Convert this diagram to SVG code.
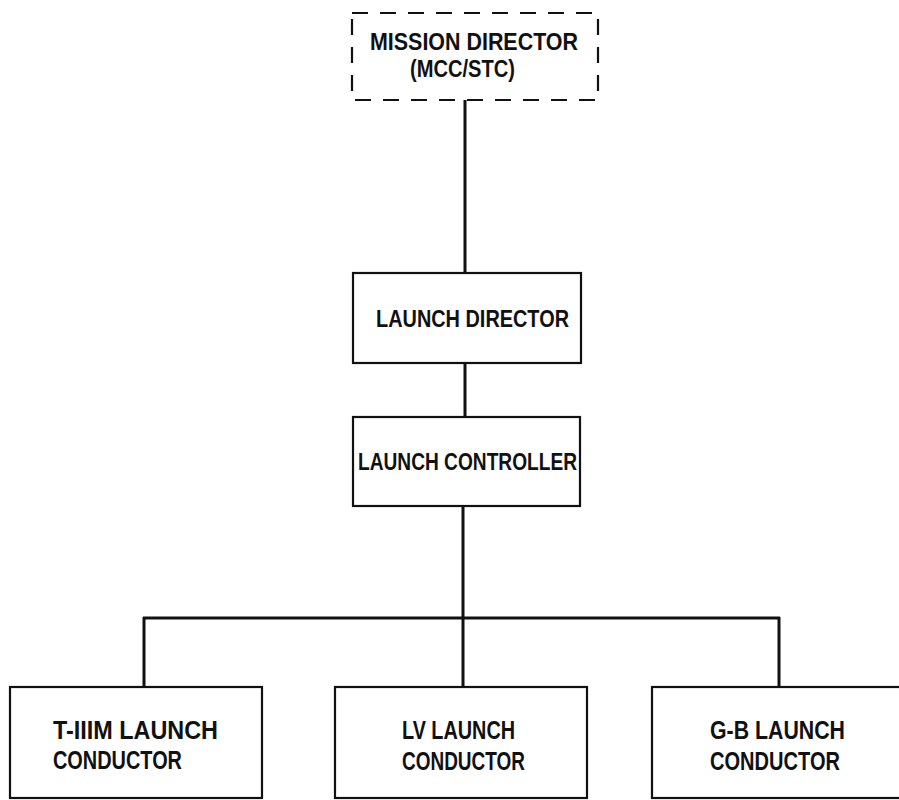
<svg xmlns="http://www.w3.org/2000/svg" width="899" height="800" viewBox="0 0 899 800">
  <style>
    .box { fill: #fff; stroke: #111; stroke-width: 2.2; }
    .dashed { fill: #fff; stroke: #111; stroke-width: 2.2; stroke-dasharray: 16 12; }
    .link { fill: none; stroke: #111; stroke-width: 3; }
    .label { font-family: "Liberation Sans", Arial, sans-serif; font-size: 23px; font-weight: bold; fill: #111; }
    .big { font-size: 25px; }
  </style>
  <rect width="899" height="800" fill="#fff"/>

  <g id="connectors">
    <line class="link" x1="465" y1="100" x2="465" y2="273"/>
    <line class="link" x1="465" y1="363" x2="465" y2="417"/>
    <line class="link" x1="463" y1="506" x2="463" y2="687"/>
    <line class="link" x1="143" y1="618" x2="780" y2="618"/>
    <line class="link" x1="144" y1="617" x2="144" y2="687"/>
    <line class="link" x1="779" y1="617" x2="779" y2="687"/>
  </g>

  <g id="mission-director">
    <rect class="dashed" x="352" y="13" width="246" height="87"/>
    <text class="label" x="370" y="50" textLength="208" lengthAdjust="spacingAndGlyphs">MISSION DIRECTOR</text>
    <text class="label" x="410" y="77" textLength="105" lengthAdjust="spacingAndGlyphs">(MCC/STC)</text>
  </g>

  <g id="launch-director">
    <rect class="box" x="353" y="273" width="228" height="90"/>
    <text class="label" x="376" y="327" textLength="193" lengthAdjust="spacingAndGlyphs">LAUNCH DIRECTOR</text>
  </g>

  <g id="launch-controller">
    <rect class="box" x="353" y="417" width="227" height="89"/>
    <text class="label" x="358" y="470" textLength="219" lengthAdjust="spacingAndGlyphs">LAUNCH CONTROLLER</text>
  </g>

  <g id="t3m-launch-conductor">
    <rect class="box" x="10" y="687" width="252" height="111"/>
    <text class="label big" x="53" y="739" textLength="165" lengthAdjust="spacingAndGlyphs">T-IIIM LAUNCH</text>
    <text class="label big" x="53" y="769" textLength="129" lengthAdjust="spacingAndGlyphs">CONDUCTOR</text>
  </g>

  <g id="lv-launch-conductor">
    <rect class="box" x="335" y="687" width="252" height="111"/>
    <text class="label big" x="402" y="739" textLength="113" lengthAdjust="spacingAndGlyphs">LV LAUNCH</text>
    <text class="label big" x="402" y="770" textLength="123" lengthAdjust="spacingAndGlyphs">CONDUCTOR</text>
  </g>

  <g id="gb-launch-conductor">
    <rect class="box" x="652" y="687" width="260" height="111"/>
    <text class="label big" x="710" y="739" textLength="135" lengthAdjust="spacingAndGlyphs">G-B LAUNCH</text>
    <text class="label big" x="710" y="770" textLength="130" lengthAdjust="spacingAndGlyphs">CONDUCTOR</text>
  </g>
</svg>
